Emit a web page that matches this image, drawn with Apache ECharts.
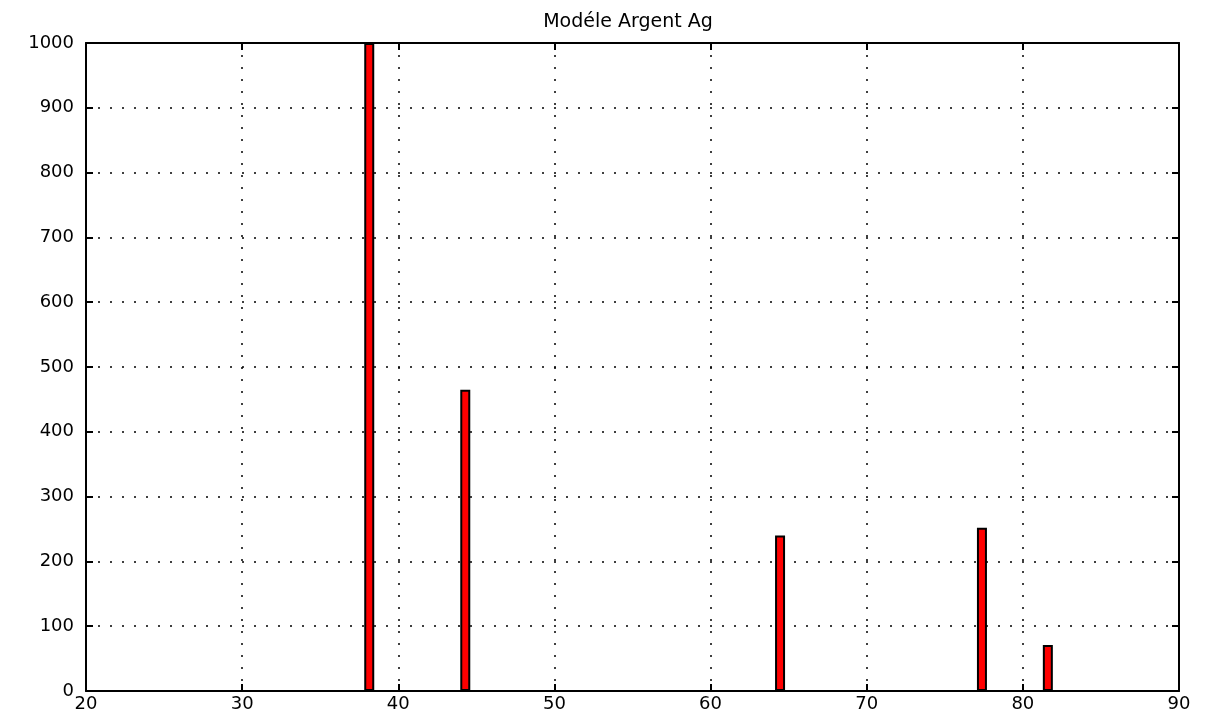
<!DOCTYPE html>
<html><head><meta charset="utf-8">
<script src="https://cdn.jsdelivr.net/npm/echarts@6/dist/echarts.min.js"></script>
<style>html,body{margin:0;padding:0;background:#fff}#c{width:1208px;height:718px}</style>
</head><body><div id="c"></div>
<script>
const peaks2Theta = [38.14, 44.29, 64.45, 77.38, 81.6];
const intensities = [1000, 465, 240, 252, 71];
const xTicks = [20, 30, 40, 50, 60, 70, 80, 90];
const yTicks = [0, 100, 200, 300, 400, 500, 600, 700, 800, 900, 1000];
const titleText = 'Modéle Argent Ag';

const chart = echarts.init(document.getElementById('c'));
const font = 'DejaVu Sans, Verdana, sans-serif';
const axisBase = {
  type: 'value',
  axisLine: { show: true, onZero: false, lineStyle: { color: '#000', width: 2 } },
  axisTick: { show: true, inside: true, length: 7, lineStyle: { color: '#000', width: 2 } },
  splitLine: { show: false },
};
chart.setOption({
  animation: false,
  title: { text: titleText, left: 623, top: 8, textAlign: 'center',
    textStyle: { fontFamily: font, fontSize: 19, fontWeight: 'normal', color: '#000' } },
  grid: { left: 86, right: 29, top: 43, bottom: 27 },
  xAxis: [
    Object.assign({}, axisBase, {
      position: 'bottom', min: xTicks[0], max: xTicks[xTicks.length - 1], interval: 10,
      axisLabel: { color: '#000', fontFamily: font, fontSize: 18, margin: 4 },
      splitLine: { show: true, lineStyle: { color: '#000', type: [2, 10], width: 1.5 } }
    }),
    Object.assign({}, axisBase, {
      position: 'top', min: xTicks[0], max: xTicks[xTicks.length - 1], interval: 10,
      axisLabel: { show: false }
    })
  ],
  yAxis: [
    Object.assign({}, axisBase, {
      position: 'left', min: yTicks[0], max: yTicks[yTicks.length - 1], interval: 100,
      axisLabel: { color: '#000', fontFamily: font, fontSize: 18, margin: 12,
        formatter: v => String(v) },
      splitLine: { show: true, lineStyle: { color: '#000', type: [2, 10], width: 1.5 } }
    }),
    Object.assign({}, axisBase, {
      position: 'right', min: yTicks[0], max: yTicks[yTicks.length - 1], interval: 100,
      axisLabel: { show: false }
    })
  ],
  series: [{
    type: 'bar',
    xAxisIndex: 0, yAxisIndex: 0,
    barWidth: 10,
    data: peaks2Theta.map((x, i) => [x, intensities[i]]),
    itemStyle: { color: '#ff0000', borderColor: '#000', borderWidth: 2 }
  }]
});
</script></body></html>
